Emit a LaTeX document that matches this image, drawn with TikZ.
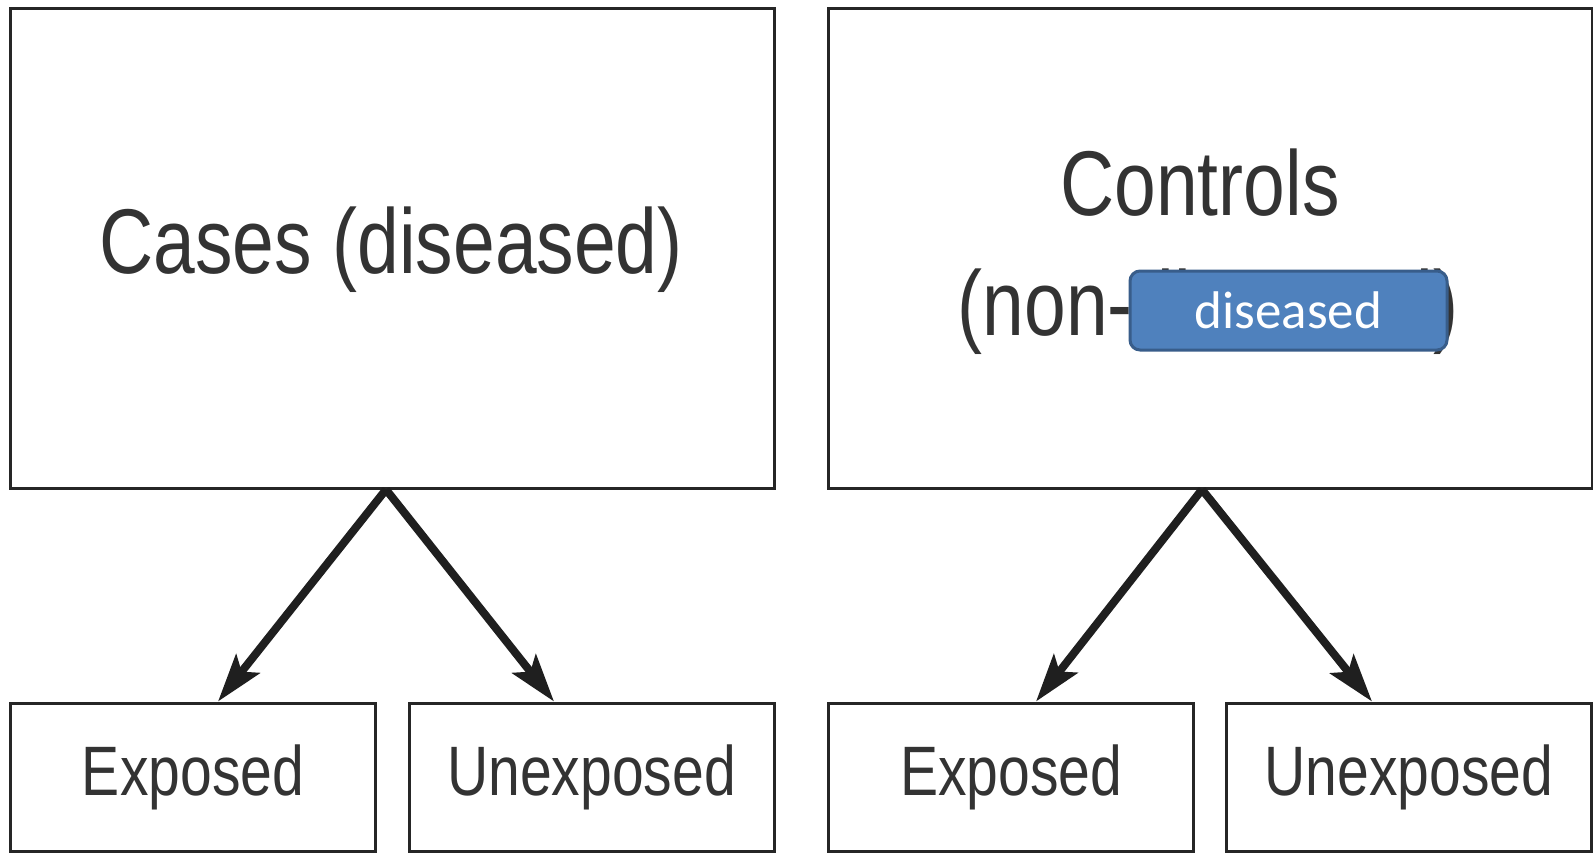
\documentclass[tikz,border=0pt]{standalone}
\usepackage{fontspec}
\setmainfont{Liberation Sans}
\newfontfamily\arialn{Liberation Sans}[FakeStretch=0.815]
\newfontfamily\calib{Carlito}
\usetikzlibrary{arrows.meta}
\definecolor{boxblue}{HTML}{4F81BD}
\definecolor{boxblueedge}{HTML}{385D8A}
\begin{document}
\begin{tikzpicture}[x=0.5pt,y=-0.5pt,
  bigbox/.style={draw=black!85,line width=1.5pt,minimum width=382pt,minimum height=240pt,inner sep=0pt},
  smallbox/.style={draw=black!85,line width=1.5pt,minimum width=182.5pt,minimum height=74pt,inner sep=0pt,
     font=\arialn\fontsize{35pt}{42pt}\selectfont,text=black!80},
  bigtext/.style={anchor=base,inner sep=0pt,font=\arialn\fontsize{46pt}{55pt}\selectfont,text=black!80},
  conn/.style={draw=black!88,line width=4pt,-{Stealth[length=24pt,width=15pt,inset=5pt]}},
  bluebox/.style={draw=boxblueedge,fill=boxblue,line width=1.5pt,rounded corners=5pt,
     minimum width=158.5pt,minimum height=39.5pt,inner sep=0pt,text=white,font=\calib\fontsize{26.5pt}{31pt}\selectfont}]
\useasboundingbox (0,0) rectangle (1593,853);
\fill[white] (0,0) rectangle (1593,853);
% big boxes
\node[bigbox] (cases) at (392,248) {};
\node[bigbox] (ctrls) at (1210,248) {};
\node[bigtext] (casesT) at (391,273) {Cases (diseased)};
\node[bigtext] (ctrlT1) at (1200,215) {Controls};
\node[bigtext] (ctrlT2) at (1208,335) {(non-diseased)};
\node[bluebox] (dis) at (1288.5,310.5) {diseased};
% small boxes
\node[smallbox] (exp1) at (193,777) {Exposed};
\node[smallbox] (unexp1) at (591.5,777) {Unexposed};
\node[smallbox] (exp2) at (1011,777) {Exposed};
\node[smallbox] (unexp2) at (1409,777) {Unexposed};
% arrows
\coordinate (s1) at ([xshift=-3pt]cases.south);
\coordinate (s2) at ([xshift=-4pt]ctrls.south);
\draw[conn] (s1) -- ([xshift=12.5pt]exp1.north);
\draw[conn] (s1) -- ([xshift=-18.75pt]unexp1.north);
\draw[conn] (s2) -- ([xshift=12.5pt]exp2.north);
\draw[conn] (s2) -- ([xshift=-18.5pt]unexp2.north);
\end{tikzpicture}
\end{document}
